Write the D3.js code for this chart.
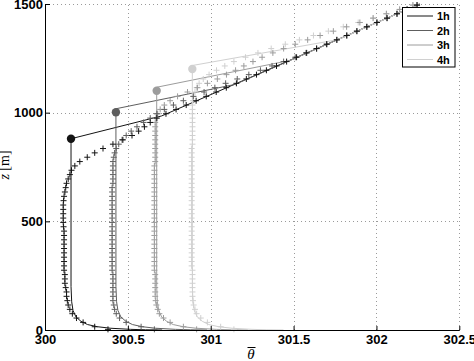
<!DOCTYPE html>
<html><head><meta charset="utf-8">
<script src="https://cdn.jsdelivr.net/npm/d3@7"></script>
<style>body{margin:0;background:#fff}svg{display:block}</style>
</head><body>
<svg id="c" width="474" height="361"></svg>
<script>
// ---------------- data ----------------
const seriesNames = ["1h", "2h", "3h", "4h"];
const seriesColors = ["#141414", "#5e5e5e", "#9c9c9c", "#d0d0d0"];

const xTicks = [300, 300.5, 301, 301.5, 302, 302.5];
const xTickLabels = ["300", "300.5", "301", "301.5", "302", "302.5"];
const yTicks = [0, 500, 1000, 1500];
const yTickLabels = ["0", "500", "1000", "1500"];

// mixed-layer top markers (filled circles)
const dotTheta = [300.157, 300.428, 300.674, 300.889];
const dotZ = [880, 1002, 1101, 1201];

// model profiles (solid lines)
const solid1hZ = [0, 1, 3, 8, 15, 25, 40, 60, 90, 130, 200, 880, 985, 1500];
const solid1hTheta = [300.707, 300.607, 300.517, 300.397, 300.317, 300.257, 300.217, 300.187, 300.169, 300.161, 300.157, 300.157, 300.704, 302.26];
const solid2hZ = [0, 1, 3, 8, 15, 25, 40, 60, 90, 130, 200, 1002, 1018, 1130, 1500];
const solid2hTheta = [300.978, 300.878, 300.788, 300.668, 300.588, 300.528, 300.488, 300.458, 300.44, 300.432, 300.428, 300.428, 300.428, 301.147, 302.26];
const solid3hZ = [0, 1, 3, 8, 15, 25, 40, 60, 90, 130, 200, 1101, 1117, 1241, 1500];
const solid3hTheta = [301.224, 301.124, 301.034, 300.914, 300.834, 300.774, 300.734, 300.704, 300.686, 300.678, 300.674, 300.674, 300.674, 301.482, 302.26];
const solid4hZ = [0, 1, 3, 8, 15, 25, 40, 60, 90, 130, 200, 1201, 1217, 1336, 1500];
const solid4hTheta = [301.439, 301.339, 301.249, 301.129, 301.049, 300.989, 300.949, 300.919, 300.901, 300.893, 300.889, 300.889, 300.889, 301.768, 302.26];

// LES profiles (+ markers) on common levels
const lesZ = [3, 15, 35, 55, 75, 95, 115, 135, 155, 175, 195, 215, 235, 255, 275, 295, 315, 335, 355, 375,
  395, 415, 435, 455, 475, 495, 515, 535, 555, 575, 595, 615, 635, 655, 675, 695, 715, 735, 755, 775,
  795, 815, 835, 855, 875, 895, 915, 935, 955, 975, 995, 1015, 1035, 1055, 1075, 1095, 1115, 1135, 1155, 1175,
  1195, 1215, 1235, 1255, 1275, 1295, 1315, 1335, 1355, 1375, 1395, 1415, 1435, 1455, 1475, 1495];
const les1h = [300.38, 300.30, 300.23, 300.19, 300.165, 300.15, 300.14, 300.135, 300.13, 300.13,
  300.125, 300.12, 300.12, 300.12, 300.115, 300.115, 300.115, 300.115, 300.115, 300.115,
  300.115, 300.115, 300.115, 300.115, 300.112, 300.11, 300.11, 300.11, 300.11, 300.11,
  300.112, 300.115, 300.12, 300.125, 300.13, 300.14, 300.15, 300.16, 300.18, 300.21,
  300.255, 300.30, 300.35, 300.41, 300.47, 300.525, 300.565, 300.60, 300.635, 300.675,
  300.73, 300.791, 300.852, 300.912, 300.973, 301.033, 301.094, 301.155, 301.215, 301.276,
  301.336, 301.397, 301.458, 301.518, 301.579, 301.639, 301.700, 301.761, 301.821, 301.882,
  301.942, 302.003, 302.064, 302.124, 302.185, 302.245];
const les2h = [300.66, 300.58, 300.49, 300.45, 300.43, 300.42, 300.415, 300.41, 300.41, 300.41,
  300.41, 300.41, 300.41, 300.41, 300.405, 300.405, 300.405, 300.405, 300.405, 300.405,
  300.405, 300.405, 300.405, 300.405, 300.405, 300.405, 300.405, 300.405, 300.405, 300.405,
  300.405, 300.405, 300.405, 300.405, 300.41, 300.41, 300.41, 300.41, 300.41, 300.41,
  300.415, 300.42, 300.43, 300.445, 300.465, 300.49, 300.52, 300.555, 300.595, 300.635,
  300.675, 300.72, 300.775, 300.835, 300.895, 300.96, 301.025, 301.09, 301.16, 301.23,
  301.30, 301.37, 301.44, 301.51, 301.575, 301.639, 301.700, 301.761, 301.821, 301.882,
  301.942, 302.003, 302.064, 302.124, 302.185, 302.245];
const les3h = [300.915, 300.835, 300.755, 300.715, 300.69, 300.68, 300.672, 300.668, 300.665, 300.665,
  300.665, 300.665, 300.665, 300.665, 300.66, 300.66, 300.66, 300.66, 300.66, 300.66,
  300.66, 300.66, 300.66, 300.66, 300.66, 300.66, 300.66, 300.66, 300.66, 300.66,
  300.66, 300.66, 300.66, 300.66, 300.66, 300.66, 300.66, 300.66, 300.66, 300.665,
  300.665, 300.665, 300.665, 300.665, 300.665, 300.665, 300.665, 300.665, 300.665, 300.67,
  300.68, 300.695, 300.72, 300.755, 300.80, 300.86, 300.92, 300.98, 301.04, 301.095,
  301.15, 301.20, 301.255, 301.31, 301.375, 301.44, 301.51, 301.585, 301.66, 301.74,
  301.82, 301.90, 301.98, 302.06, 302.14, 302.22];
const les4h = [301.14, 301.06, 300.98, 300.94, 300.915, 300.905, 300.897, 300.893, 300.89, 300.89,
  300.89, 300.89, 300.89, 300.89, 300.89, 300.885, 300.885, 300.885, 300.885, 300.885,
  300.885, 300.885, 300.885, 300.885, 300.885, 300.885, 300.885, 300.885, 300.885, 300.885,
  300.885, 300.885, 300.885, 300.885, 300.885, 300.885, 300.885, 300.885, 300.885, 300.885,
  300.885, 300.885, 300.885, 300.89, 300.89, 300.89, 300.89, 300.89, 300.89, 300.89,
  300.89, 300.89, 300.89, 300.893, 300.897, 300.905, 300.915, 300.93, 300.955, 300.99,
  301.035, 301.085, 301.14, 301.21, 301.285, 301.365, 301.45, 301.535, 301.62, 301.71,
  301.80, 301.89, 301.98, 302.06, 302.14, 302.22];

// ---------------- chart ----------------
const svg = d3.select("#c");
const x = d3.scaleLinear().domain([300, 302.5]).range([45, 459.3]);
const y = d3.scaleLinear().domain([0, 1500]).range([330, 4]);

// grid
const grid = svg.append("g").attr("stroke", "#9a9a9a").attr("stroke-width", 1).attr("stroke-dasharray", "1,3");
grid.selectAll("line.v").data(xTicks.slice(1)).join("line")
  .attr("x1", d => Math.round(x(d)) + 0.5).attr("x2", d => Math.round(x(d)) + 0.5)
  .attr("y1", y(0)).attr("y2", y(1500));
grid.selectAll("line.h").data(yTicks.slice(1)).join("line")
  .attr("y1", d => Math.round(y(d)) + 0.5).attr("y2", d => Math.round(y(d)) + 0.5)
  .attr("x1", x(300)).attr("x2", x(302.5));

const line = d3.line().x(d => x(d[0])).y(d => y(d[1]));
const solids = [
  [solid1hTheta, solid1hZ], [solid2hTheta, solid2hZ], [solid3hTheta, solid3hZ], [solid4hTheta, solid4hZ]
];
solids.forEach((s, i) => {
  svg.append("path").datum(s[0].map((t, k) => [t, s[1][k]]))
    .attr("d", line).attr("fill", "none").attr("stroke", seriesColors[i]).attr("stroke-width", 1);
});

const les = [les1h, les2h, les3h, les4h];
const plus = "M-3,0H3M0,-3V3";
for (let i = 3; i >= 0; i--) {
  svg.append("g").selectAll("path").data(les[i].map((t, k) => [t, lesZ[k]])).join("path")
    .attr("transform", d => `translate(${x(d[0])},${y(d[1])})`)
    .attr("d", plus).attr("fill", "none").attr("stroke", seriesColors[i]).attr("stroke-width", 1);
}

svg.append("g").selectAll("circle").data(dotTheta.map((t, k) => [t, dotZ[k], k])).join("circle")
  .attr("cx", d => x(d[0])).attr("cy", d => y(d[1])).attr("r", 4.2)
  .attr("fill", d => seriesColors[d[2]]);

// axes
const font = "'Liberation Sans', Arial, Helvetica, sans-serif";
const yAxis = svg.append("g").attr("transform", `translate(${x(300)},0)`)
  .call(d3.axisLeft(y).tickValues(yTicks).tickFormat((d, i) => yTickLabels[i]).tickSize(-5).tickSizeOuter(0).tickPadding(2));
const xAxis = svg.append("g").attr("transform", `translate(0,${y(0)})`)
  .call(d3.axisBottom(x).tickValues(xTicks).tickFormat((d, i) => xTickLabels[i]).tickSize(-4).tickSizeOuter(0).tickPadding(5));
[yAxis, xAxis].forEach(a => {
  a.selectAll("path,line").attr("stroke", "#000");
  a.selectAll("text").attr("fill", "#000").style("font-family", font).style("font-size", "13px").style("font-weight", "bold");
});

// axis labels
svg.append("text").attr("x", 251).attr("y", 359).attr("text-anchor", "middle")
  .style("font-family", "'Liberation Serif', 'DejaVu Serif', serif").style("font-style", "italic").style("font-size", "15px")
  .text("θ");
svg.append("line").attr("x1", 247.5).attr("x2", 255.5).attr("y1", 347.5).attr("y2", 347.5).attr("stroke", "#000").attr("stroke-width", 1);

const yl = svg.append("text").attr("transform", "translate(9,165) rotate(-90)").attr("text-anchor", "middle")
  .style("font-family", "'Liberation Serif', 'DejaVu Serif', serif").style("font-size", "14px");
yl.append("tspan").style("font-style", "italic").text("z");
yl.append("tspan").text(" [m]");

// legend
const lg = svg.append("g");
lg.append("rect").attr("x", 402.5).attr("y", 7.5).attr("width", 52.5).attr("height", 59.5)
  .attr("fill", "#fff").attr("stroke", "#000").attr("stroke-width", 1);
const legY = [16, 30.5, 45, 59.5];
seriesNames.forEach((n, i) => {
  lg.append("line").attr("x1", 407).attr("x2", 433).attr("y1", legY[i]).attr("y2", legY[i])
    .attr("stroke", seriesColors[i]).attr("stroke-width", 1);
  lg.append("text").attr("x", 437).attr("y", legY[i] + 4.3).text(n)
    .style("font-family", font).style("font-size", "11px").style("font-weight", "bold").attr("fill", "#000");
});
</script>
</body></html>
